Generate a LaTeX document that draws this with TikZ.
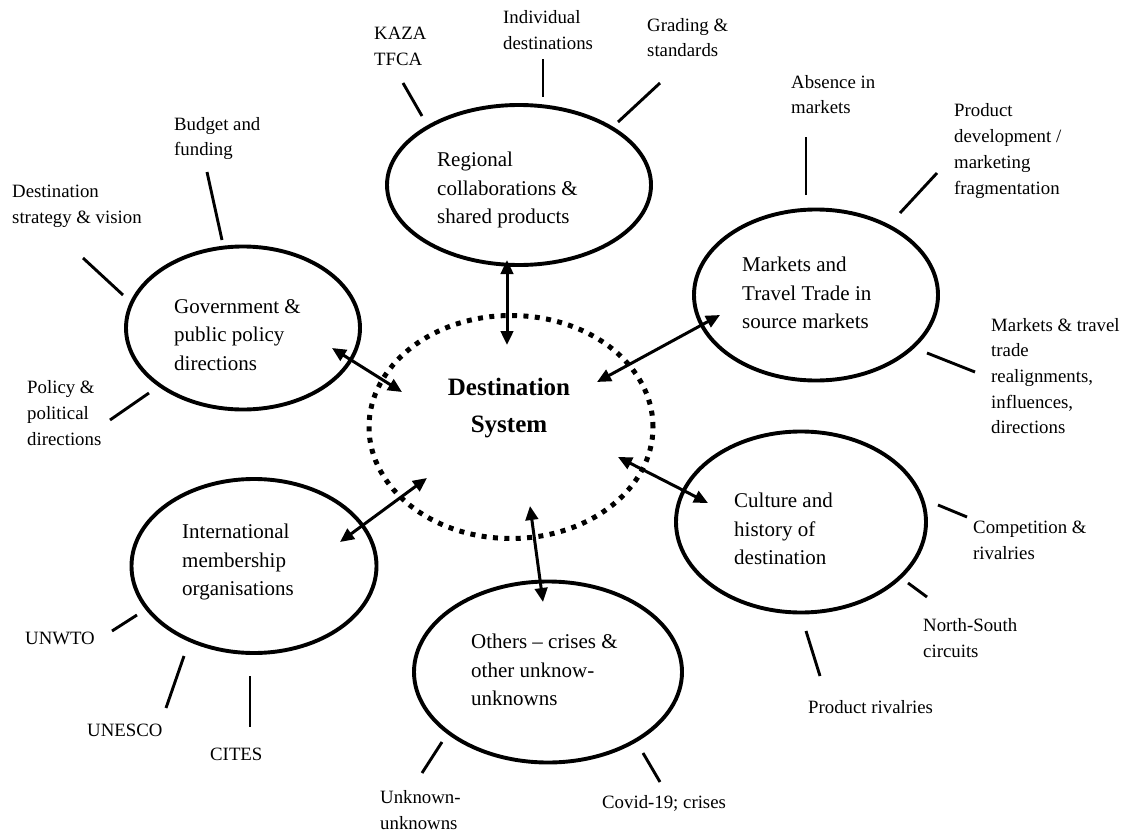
\documentclass[tikz,border=0pt]{standalone}
\usepackage{fontspec}
\setmainfont{Liberation Serif}
\usetikzlibrary{shapes.geometric,arrows.meta}

\tikzset{
  bubble/.style={draw, ellipse, line width=3.9pt, inner sep=0pt},
  hub/.style={draw, ellipse, line width=5pt, dash pattern=on 5pt off 6.4pt, inner sep=0pt},
  bubbletext/.style={anchor=west, align=left, inner sep=0pt, font=\fontsize{21}{28.5}\selectfont},
  lbl/.style={anchor=west, align=left, inner sep=0pt, font=\fontsize{18.8}{25.7}\selectfont},
  spoke/.style={line width=2.9pt},
  link/.style={line width=3pt, {Triangle[length=14pt,width=12.5pt]}-{Triangle[length=14pt,width=12.5pt]}}
}

\begin{document}
\begin{tikzpicture}[x=1pt,y=-1pt]
\useasboundingbox (0,0) rectangle (1129,832);

% central system
\node[hub, minimum width=284pt, minimum height=223pt] (hub) at (511,427) {};
\node[align=center, inner sep=0pt, font=\fontsize{25}{37}\selectfont\bfseries] (hubtext) at (509,408) {Destination\\System};

% surrounding spheres
\node[bubble, minimum width=264pt, minimum height=160pt] (reg) at (519,185) {};
\node[bubble, minimum width=234pt, minimum height=163pt] (gov) at (243,328) {};
\node[bubble, minimum width=244pt, minimum height=171pt] (mkt) at (816,295) {};
\node[bubble, minimum width=250pt, minimum height=181pt] (cul) at (801,522) {};
\node[bubble, minimum width=245pt, minimum height=174pt] (intl) at (254,566) {};
\node[bubble, minimum width=268pt, minimum height=181pt] (oth) at (548,672) {};

\node[bubbletext] (regtext) at (437,190) {Regional\\collaborations \&\\shared products};
\node[bubbletext] (govtext) at (174,335) {Government \&\\public policy\\directions};
\node[bubbletext] (mkttext) at (742,293) {Markets and\\Travel Trade in\\source markets};
\node[bubbletext] (cultext) at (734,529) {Culture and\\history of\\destination};
\node[bubbletext] (intltext) at (182,562) {International\\membership\\organisations};
\node[bubbletext] (othtext) at (471,670) {Others -- crises \&\\other unknow-\\unknowns};

% two-way links between the spheres and the system
\coordinate (regA) at (507,260);  \coordinate (regB) at (507,345);
\coordinate (govA) at (332,348);  \coordinate (govB) at (402,392);
\coordinate (mktA) at (720,315);  \coordinate (mktB) at (597,382);
\coordinate (culA) at (708,503);  \coordinate (culB) at (618,457);
\coordinate (intlA) at (340,542); \coordinate (intlB) at (427,478);
\coordinate (othA) at (543,602);  \coordinate (othB) at (530,506);
\draw[link] (regA) -- (regB);
\draw[link] (govA) -- (govB);
\draw[link] (mktA) -- (mktB);
\draw[link] (culA) -- (culB);
\draw[link] (intlA) -- (intlB);
\draw[link] (othA) -- (othB);

% outer labels
\node[lbl] (kaza) at (374,46.5) {KAZA\\TFCA};
\node[lbl] (indiv) at (503,30) {Individual\\destinations};
\node[lbl] (grad) at (647,37.5) {Grading \&\\standards};
\node[lbl] (budget) at (174,138.5) {Budget and\\funding};
\node[lbl] (strat) at (12,206.5) {Destination\\strategy \& vision};
\node[lbl] (policy) at (27,413) {Policy \&\\political\\directions};
\node[lbl] (absence) at (791,94.5) {Absence in\\markets};
\node[lbl] (proddev) at (954,151) {Product\\development /\\marketing\\fragmentation};
\node[lbl] (realign) at (991,376) {Markets \& travel\\trade\\realignments,\\influences,\\directions};
\node[lbl] (compet) at (973,540) {Competition \&\\rivalries};
\node[lbl] (nsouth) at (923,638) {North-South\\circuits};
\node[lbl] (prodriv) at (808,707) {Product rivalries};
\node[lbl] (unwto) at (25,638) {UNWTO};
\node[lbl] (unesco) at (87,730) {UNESCO};
\node[lbl] (cites) at (210,754) {CITES};
\node[lbl] (unkn) at (380,810) {Unknown-\\unknowns};
\node[lbl] (covid) at (602,803) {Covid-19; crises};

% spokes from the spheres towards their labels
\coordinate (s1a) at (422,116); \coordinate (s1b) at (403,83);
\coordinate (s2a) at (543,97);  \coordinate (s2b) at (543,59);
\coordinate (s3a) at (618,122); \coordinate (s3b) at (660,83);
\coordinate (s4a) at (222,240); \coordinate (s4b) at (207,172);
\coordinate (s5a) at (123,295); \coordinate (s5b) at (83,258);
\coordinate (s6a) at (149,393); \coordinate (s6b) at (110,420);
\coordinate (s7a) at (806,195); \coordinate (s7b) at (806,137);
\coordinate (s8a) at (900,213); \coordinate (s8b) at (937,173);
\coordinate (s9a) at (927,353); \coordinate (s9b) at (975,372);
\coordinate (s10a) at (938,505); \coordinate (s10b) at (967,517);
\coordinate (s11a) at (908,583); \coordinate (s11b) at (927,597);
\coordinate (s12a) at (806,631); \coordinate (s12b) at (820,676);
\coordinate (s13a) at (137,615); \coordinate (s13b) at (112,631);
\coordinate (s14a) at (184,656); \coordinate (s14b) at (166,708);
\coordinate (s15a) at (250,676); \coordinate (s15b) at (250,727);
\coordinate (s16a) at (442,742); \coordinate (s16b) at (422,773);
\coordinate (s17a) at (643,753); \coordinate (s17b) at (660,782);
\foreach \i in {1,...,17} {\draw[spoke] (s\i a) -- (s\i b);}
\end{tikzpicture}
\end{document}
